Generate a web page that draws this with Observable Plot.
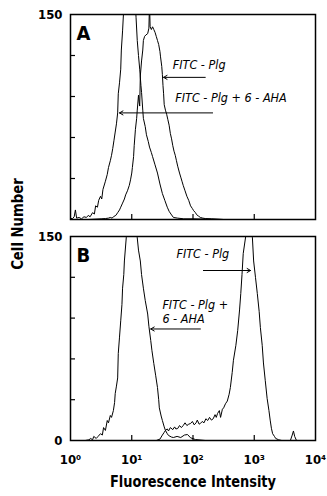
<!DOCTYPE html>
<html>
<head>
<meta charset="utf-8">
<script src="https://cdn.jsdelivr.net/npm/d3@7"></script>
<script src="https://cdn.jsdelivr.net/npm/@observablehq/plot@0.6"></script>
<style>
  html, body { margin: 0; padding: 0; background: #fff; }
  #wrap { position: relative; width: 327px; height: 496px; overflow: hidden;
          font-family: "DejaVu Sans Condensed", "DejaVu Sans", sans-serif; }
  .abs { position: absolute; }
  #ylab { left: 17px; top: 224px; transform: translate(-50%, -50%) rotate(-90deg) scaleX(0.92);
          font-size: 16px; font-weight: bold; white-space: nowrap; }
  #xlab { left: 193px; top: 481px; transform: translate(-50%, -50%) scaleX(0.9);
          font-size: 16px; font-weight: bold; white-space: nowrap; }
</style>
</head>
<body>
<div id="wrap">
  <div id="pa" class="abs" style="left:0;top:0"></div>
  <div id="pb" class="abs" style="left:0;top:222px"></div>
  <div id="ylab" class="abs">Cell Number</div>
  <div id="xlab" class="abs">Fluorescence Intensity</div>
</div>
<script>
// x values are log10(fluorescence intensity), y values are cell counts
const decades = [0, 1, 2, 3, 4];
const innerDecades = [1, 2, 3];
const yLabelTicks = [0, 150];
const yInnerTicks = [30, 60, 90, 120];
const supers = ["\u2070", "\u00b9", "\u00b2", "\u00b3", "\u2074"];

const panelA_AHA = [[0,1],[0.03,0.5],[0.06,2],[0.08,7],[0.1,1],[0.14,1.5],[0.18,0.5],[0.22,2],[0.26,1.5],[0.29,3],[0.32,2],[0.36,5],[0.39,4],[0.41,10],[0.44,9],[0.46,14],[0.49,17],[0.51,15],[0.53,22],[0.57,28],[0.6,33],[0.62,38],[0.65,43],[0.67,47],[0.69,52],[0.71,58],[0.73,64],[0.75,70],[0.77,78],[0.78,92],[0.8,100],[0.82,110],[0.83,124],[0.85,138],[0.87,155],[0.92,185],[0.97,200],[1.02,190],[1.05,165],[1.07,148],[1.09,131],[1.11,120],[1.13,110],[1.15,98],[1.16,93],[1.18,80],[1.19,74],[1.22,68],[1.24,62],[1.27,57],[1.29,53],[1.32,49],[1.34,46],[1.38,40],[1.42,34],[1.46,26],[1.5,19],[1.54,14],[1.58,9],[1.61,6],[1.64,4],[1.68,1.5],[1.75,1],[1.85,0.5],[2,0.5],[2.5,0],[4,0]];

const panelA_Plg = [[0,0],[0.3,0],[0.5,0.5],[0.57,0.7],[0.62,1],[0.65,1.5],[0.68,1],[0.7,2],[0.74,3],[0.77,5],[0.8,7],[0.82,9],[0.85,12],[0.88,15],[0.9,18],[0.93,21],[0.96,25],[0.98,29],[1.0,34],[1.01,38],[1.03,46],[1.04,54],[1.06,66],[1.08,74],[1.09,80],[1.11,91],[1.12,86],[1.13,83],[1.14,105],[1.16,116],[1.18,124],[1.19,131],[1.21,134],[1.23,135],[1.26,136],[1.28,140],[1.29,158],[1.3,141],[1.32,139],[1.34,141],[1.36,139],[1.38,137],[1.4,134],[1.42,131],[1.44,128],[1.46,123],[1.47,119],[1.49,112],[1.5,106],[1.51,98],[1.52,92],[1.53,84],[1.55,80],[1.57,77],[1.59,73],[1.61,69],[1.63,63],[1.65,59],[1.67,54],[1.69,50],[1.71,47],[1.73,43],[1.75,39],[1.78,34],[1.8,31],[1.82,28],[1.84,25],[1.87,21],[1.9,17],[1.93,14],[1.96,10],[1.99,8],[2.01,6.5],[2.04,5],[2.06,3.5],[2.09,2.5],[2.12,1.5],[2.16,1],[2.2,0.7],[2.3,0.5],[2.5,0],[4,0]];

const panelB_AHA = [[0,0],[0.24,0],[0.3,0.5],[0.33,1.5],[0.36,0.5],[0.38,3],[0.42,1.5],[0.45,3],[0.49,5],[0.52,4],[0.54,9.5],[0.57,7.4],[0.6,14.7],[0.62,13],[0.65,18.4],[0.67,17],[0.7,22],[0.72,28],[0.73,34.5],[0.75,40],[0.77,46],[0.78,64],[0.8,76],[0.82,88],[0.84,100],[0.85,112],[0.87,122],[0.88,132],[0.91,149],[0.95,172],[0.99,180],[1.03,175],[1.07,160],[1.09,149],[1.11,140],[1.14,132],[1.16,122],[1.19,112],[1.22,103],[1.26,93],[1.28,84],[1.31,73.5],[1.33,66],[1.36,56.6],[1.39,48],[1.42,39],[1.44,30],[1.45,24],[1.48,18],[1.5,14.7],[1.53,10],[1.55,7.4],[1.58,5],[1.6,3.7],[1.65,2.5],[1.68,2.2],[1.74,3],[1.8,2.2],[1.86,4],[1.91,4.4],[1.96,2],[2.04,0.7],[2.2,0],[4,0]];

const panelB_Plg = [[0,0],[1.4,0],[1.46,1],[1.5,4],[1.53,6],[1.55,7.4],[1.58,8.5],[1.6,7],[1.63,9.5],[1.67,8],[1.7,10],[1.72,8.5],[1.75,8.8],[1.78,11],[1.81,9.5],[1.84,11],[1.87,13],[1.9,11],[1.93,12],[1.96,12.5],[1.99,14],[2.02,11.5],[2.05,13],[2.07,15],[2.1,12],[2.12,12.5],[2.15,14],[2.18,13],[2.21,16],[2.24,14.7],[2.27,17],[2.3,15],[2.33,16],[2.36,19],[2.38,17],[2.4,19.8],[2.43,22],[2.45,17],[2.48,23],[2.5,24],[2.53,27],[2.56,29],[2.59,34],[2.61,39],[2.64,50],[2.66,59],[2.7,70],[2.73,81],[2.76,96],[2.78,108],[2.8,122],[2.82,137.5],[2.86,150],[2.9,168],[2.94,165],[2.97,149],[2.99,132],[3.02,120],[3.05,108],[3.08,95],[3.1,83],[3.13,70],[3.15,57],[3.18,44],[3.21,31],[3.24,22],[3.26,15],[3.28,9],[3.3,5],[3.33,3],[3.35,1.5],[3.4,0.5],[3.45,0],[3.59,0],[3.62,4],[3.64,7],[3.66,3],[3.69,0],[4,0]];

const labelsA = [{x: 1.67, y: 110, text: "FITC - Plg"}, {x: 1.71, y: 86, text: "FITC - Plg + 6 - AHA"}];
const arrowsA = [{x1: 2.20, x2: 1.52, y: 104}, {x1: 2.32, x2: 0.80, y: 78}];
const labelsB = [{x: 1.73, y: 134, text: "FITC - Plg"}, {x: 1.50, y: 96.5, text: "FITC - Plg +"}, {x: 1.50, y: 86.5, text: "6 - AHA"}];
const arrowsB = [{x1: 2.17, x2: 2.94, y: 125}, {x1: 2.12, x2: 1.31, y: 82}];

const FONT = '"DejaVu Sans Condensed", "DejaVu Sans", sans-serif';

function panel({letter, aha, plg, labels, arrows, showX, yTicks, height, marginBottom}) {
  const marks = [
    Plot.lineY(aha, {x: d => d[0], y: d => d[1], stroke: "black", strokeWidth: 1, clip: true}),
    Plot.lineY(plg, {x: d => d[0], y: d => d[1], stroke: "black", strokeWidth: 1, clip: true}),
    Plot.frame({stroke: "black", strokeWidth: 1.5}),
    Plot.axisY(yInnerTicks, {anchor: "left", label: null, tickSize: 5, dx: 5, tickFormat: () => "", strokeWidth: 1.2}),
    Plot.axisX(innerDecades, {anchor: "bottom", label: null, tickSize: 5, dy: -5, tickFormat: () => "", strokeWidth: 1.2}),
    Plot.axisY(yTicks, {anchor: "left", label: null, tickSize: 0, tickPadding: 8, fontSize: 13, fontWeight: "bold"}),
    Plot.text([letter], {frameAnchor: "top-left", dx: 6, dy: 11, lineAnchor: "top", fontSize: 20, fontWeight: "bold"}),
    Plot.text(labels, {x: "x", y: "y", text: "text", textAnchor: "start", lineAnchor: "bottom", fontSize: 12.5, fontStyle: "italic"}),
    Plot.arrow(arrows, {x1: "x1", x2: "x2", y1: "y", y2: "y", stroke: "black", strokeWidth: 1, headLength: 6})
  ];
  if (showX) {
    marks.push(Plot.axisX(decades, {anchor: "bottom", label: null, tickSize: 0, tickPadding: 14, fontSize: 13, fontWeight: "bold",
      tickFormat: d => "10" + supers[d]}));
  }
  return Plot.plot({
    width: 327, height,
    marginLeft: 70, marginRight: 12, marginTop: 14, marginBottom,
    style: {fontFamily: FONT, color: "black", background: "white", overflow: "visible"},
    x: {domain: [0, 4], axis: null},
    y: {domain: [0, 150], axis: null},
    marks
  });
}

document.getElementById("pa").appendChild(panel({letter: "A", aha: panelA_AHA, plg: panelA_Plg,
  labels: labelsA, arrows: arrowsA, showX: false, yTicks: [150], height: 222, marginBottom: 3}));
document.getElementById("pb").appendChild(panel({letter: "B", aha: panelB_AHA, plg: panelB_Plg,
  labels: labelsB, arrows: arrowsB, showX: true, yTicks: yLabelTicks, height: 255, marginBottom: 37}));
</script>
</body>
</html>
